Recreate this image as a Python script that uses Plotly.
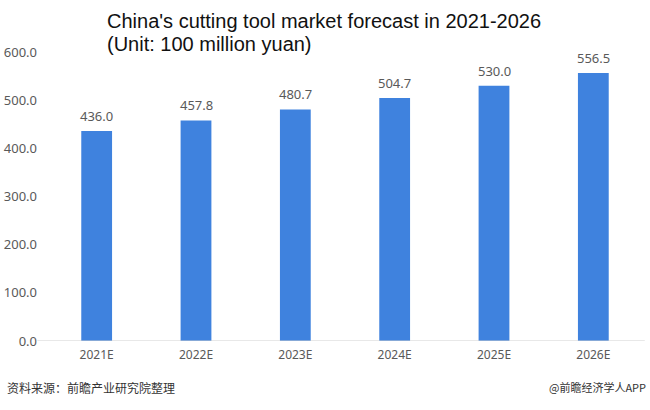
import plotly.graph_objects as go

categories = ["2021E", "2022E", "2023E", "2024E", "2025E", "2026E"]
values = [436.0, 457.8, 480.7, 504.7, 530.0, 556.5]
y_ticks = [0, 100, 200, 300, 400, 500, 600]
y_tick_labels = ["0.0", "100.0", "200.0", "300.0", "400.0", "500.0", "600.0"]
title_line1 = "China's cutting tool market forecast in 2021-2026"
title_line2 = "(Unit: 100 million yuan)"
source_text = "资料来源：前瞻产业研究院整理"
credit_text = "@前瞻经济学人APP"

lab_font = dict(family="Noto Sans, Open Sans, sans-serif", size=12, color="#595959")
num_font = dict(family="Noto Sans, Open Sans, sans-serif", size=13, color="#595959")
title_font = dict(family="Liberation Sans, Arial, sans-serif", size=20, color="#111111")

fig = go.Figure(go.Bar(
    x=categories, y=values,
    marker=dict(color="#3f82de", line=dict(width=0)),
))

value_annotations = [
    dict(x=c, y=v, xref="x", yref="y", text=f"{v:.1f}", showarrow=False,
         yanchor="middle", yshift=15, font=num_font)
    for c, v in zip(categories, values)
]

fig.update_layout(
    width=650, height=410,
    margin=dict(l=47, r=7, t=52, b=69),
    paper_bgcolor="white", plot_bgcolor="white",
    bargap=0.69,
    showlegend=False,
    xaxis=dict(showgrid=False, showline=False, ticks="", zeroline=False, automargin=False,
               tickfont=lab_font, ticklabelstandoff=5),
    yaxis=dict(range=[0, 600], tickvals=y_ticks, ticktext=y_tick_labels, automargin=False,
               showgrid=False, zeroline=False, showline=False, ticks="",
               tickfont=num_font, ticklabelstandoff=9),
    shapes=[dict(type="line", xref="paper", yref="y", x0=-0.016, x1=1.003, y0=0, y1=0,
                 line=dict(color="#d0d0d0", width=1))],
    annotations=value_annotations + [
        dict(text=title_line1, xref="paper", yref="paper", x=0.097, y=1.0, yshift=31,
             xanchor="left", yanchor="middle", showarrow=False, align="left", font=title_font),
        dict(text=title_line2, xref="paper", yref="paper", x=0.097, y=1.0, yshift=8,
             xanchor="left", yanchor="middle", showarrow=False, align="left", font=title_font),
        dict(text=source_text, xref="paper", yref="paper", x=-0.071, y=0, yshift=-46,
             xanchor="left", yanchor="middle", showarrow=False,
             font=dict(family="Noto Sans CJK SC, sans-serif", size=12, color="#333333")),
        dict(text=credit_text, xref="paper", yref="paper", x=1.0, y=0, yshift=-46, xshift=5,
             xanchor="right", yanchor="middle", showarrow=False,
             font=dict(family="Noto Sans CJK SC, sans-serif", size=11, color="#333333")),
    ],
)

fig.write_html("out.html", config={"displayModeBar": False},
               post_script="document.body.style.margin='0';")
